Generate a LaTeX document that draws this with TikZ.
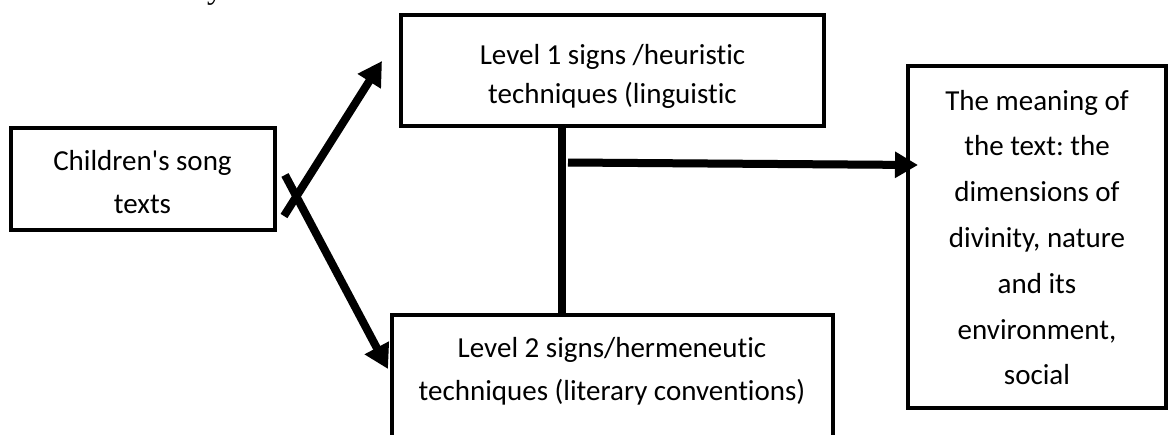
\documentclass[tikz,border=0pt]{standalone}
\usepackage{fontspec}
\newfontfamily\boxfont{Carlito}[Ligatures={NoCommon}]
\newfontfamily\serifpart{Liberation Serif}
\usetikzlibrary{arrows.meta,calc}
\frenchspacing
\tikzset{
  box/.style={draw=black, line width=4pt, rectangle, inner sep=0pt, outer sep=0pt, fill=white},
  lbl/.style={font=\boxfont\fontsize{29}{29}\selectfont, anchor=base, inner sep=0pt, text=black},
  conn/.style={line width=8pt, draw=black},
  shade/.style={line width=8pt, draw=black!12, shift={(1.5,3)}},
  arr/.style={conn, -{Triangle[length=24pt,width=26pt]}},
}
\begin{document}
\begin{tikzpicture}[x=1pt,y=-1pt]
\useasboundingbox (0,0) rectangle (1168,434);
\clip (0,0) rectangle (1168,434);
\fill[white] (0,0) rectangle (1168,434);

% fragment of text above the figure
\node[lbl, font=\serifpart\fontsize{32}{32}\selectfont] (frag) at (215,-2) {y};

% boxes
\node[box, anchor=north west, minimum width=263.5pt, minimum height=102pt] (songs) at (11,128) {};
\node[box, anchor=north west, minimum width=423pt, minimum height=110.5pt] (lvl1) at (401,15) {};
\node[box, anchor=north west, minimum width=441pt, minimum height=145pt] (lvl2) at (391.5,315) {};
\node[box, anchor=north west, minimum width=258pt, minimum height=341.5pt] (meaning) at (908,66) {};

% texts
\node[lbl] (songsA) at (142.5,170) {Children's song};
\node[lbl] (songsB) at (142.5,213) {texts};

\node[lbl] (lvl1A) at (612.5,64) {Level 1 signs /heuristic};
\node[lbl] (lvl1B) at (612.5,103) {techniques (linguistic};

\node[lbl] (lvl2A) at (612,357) {Level 2 signs/hermeneutic};
\node[lbl] (lvl2B) at (612,400) {techniques (literary conventions)};

\node[lbl] (mA) at (1037,110) {The meaning of};
\node[lbl] (mB) at (1037,155.8) {the text: the};
\node[lbl] (mC) at (1037,201.6) {dimensions of};
\node[lbl] (mD) at (1037,247.4) {divinity, nature};
\node[lbl] (mE) at (1037,293.2) {and its};
\node[lbl] (mF) at (1037,339) {environment,};
\node[lbl] (mG) at (1037,384.8) {social};

% connector end points
\coordinate (upStart) at (284,216);
\coordinate (upTip) at (382,61);
\coordinate (dnStart) at (285,175);
\coordinate (dnTip) at (388,369);
\coordinate (vTop) at (562,125.5);
\coordinate (vBot) at (562,315);
\coordinate (hStart) at (568,162.5);
\coordinate (hTip) at (918,165);

% faint shadows of connectors
\draw[shade] (vTop) -- (vBot);
\draw[shade] (upStart) -- ($(upTip)!0.14!(upStart)$);
\draw[shade] (dnStart) -- ($(dnTip)!0.12!(dnStart)$);
\draw[shade] (hStart) -- ($(hTip)!0.07!(hStart)$);

% connectors
\draw[conn] (vTop) -- (vBot);
\draw[arr] (upStart) -- (upTip);
\draw[arr] (dnStart) -- (dnTip);
\draw[arr, -{Triangle[length=23pt,width=25pt]}] (hStart) -- (hTip);
\end{tikzpicture}
\end{document}
